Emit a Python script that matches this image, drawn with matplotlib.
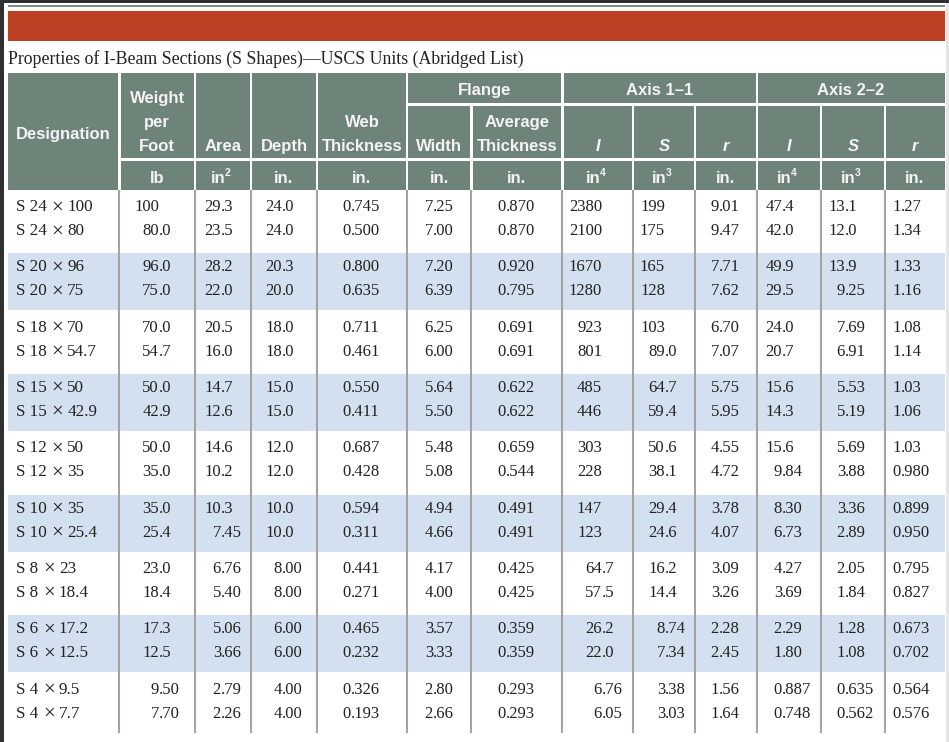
import matplotlib
matplotlib.use("Agg")
import matplotlib.pyplot as plt
from matplotlib import font_manager
from matplotlib.patches import Rectangle

# table data
designations = ["S 24 × 100", "S 24 × 80", "S 20 × 96", "S 20 × 75", "S 18 × 70", "S 18 × 54.7",
                "S 15 × 50", "S 15 × 42.9", "S 12 × 50", "S 12 × 35", "S 10 × 35", "S 10 × 25.4",
                "S 8 × 23", "S 8 × 18.4", "S 6 × 17.2", "S 6 × 12.5", "S 4 × 9.5", "S 4 × 7.7"]
weight = ["100", "80.0", "96.0", "75.0", "70.0", "54.7", "50.0", "42.9", "50.0", "35.0",
          "35.0", "25.4", "23.0", "18.4", "17.3", "12.5", "9.50", "7.70"]
area = ["29.3", "23.5", "28.2", "22.0", "20.5", "16.0", "14.7", "12.6", "14.6", "10.2",
        "10.3", "7.45", "6.76", "5.40", "5.06", "3.66", "2.79", "2.26"]
depth = ["24.0", "24.0", "20.3", "20.0", "18.0", "18.0", "15.0", "15.0", "12.0", "12.0",
         "10.0", "10.0", "8.00", "8.00", "6.00", "6.00", "4.00", "4.00"]
web_t = ["0.745", "0.500", "0.800", "0.635", "0.711", "0.461", "0.550", "0.411", "0.687", "0.428",
         "0.594", "0.311", "0.441", "0.271", "0.465", "0.232", "0.326", "0.193"]
flange_w = ["7.25", "7.00", "7.20", "6.39", "6.25", "6.00", "5.64", "5.50", "5.48", "5.08",
            "4.94", "4.66", "4.17", "4.00", "3.57", "3.33", "2.80", "2.66"]
flange_t = ["0.870", "0.870", "0.920", "0.795", "0.691", "0.691", "0.622", "0.622", "0.659", "0.544",
            "0.491", "0.491", "0.425", "0.425", "0.359", "0.359", "0.293", "0.293"]
i11 = ["2380", "2100", "1670", "1280", "923", "801", "485", "446", "303", "228",
       "147", "123", "64.7", "57.5", "26.2", "22.0", "6.76", "6.05"]
s11 = ["199", "175", "165", "128", "103", "89.0", "64.7", "59.4", "50.6", "38.1",
       "29.4", "24.6", "16.2", "14.4", "8.74", "7.34", "3.38", "3.03"]
r11 = ["9.01", "9.47", "7.71", "7.62", "6.70", "7.07", "5.75", "5.95", "4.55", "4.72",
       "3.78", "4.07", "3.09", "3.26", "2.28", "2.45", "1.56", "1.64"]
i22 = ["47.4", "42.0", "49.9", "29.5", "24.0", "20.7", "15.6", "14.3", "15.6", "9.84",
       "8.30", "6.73", "4.27", "3.69", "2.29", "1.80", "0.887", "0.748"]
s22 = ["13.1", "12.0", "13.9", "9.25", "7.69", "6.91", "5.53", "5.19", "5.69", "3.88",
       "3.36", "2.89", "2.05", "1.84", "1.28", "1.08", "0.635", "0.562"]
r22 = ["1.27", "1.34", "1.33", "1.16", "1.08", "1.14", "1.03", "1.06", "1.03", "0.980",
       "0.899", "0.950", "0.795", "0.827", "0.673", "0.702", "0.564", "0.576"]

title = "Properties of I-Beam Sections (S Shapes)\u2014USCS Units (Abridged List)"
# units: (base, superscript)
units = [("lb", ""), ("in", "2"), ("in.", ""), ("in.", ""), ("in.", ""), ("in.", ""),
         ("in", "4"), ("in", "3"), ("in.", ""), ("in", "4"), ("in", "3"), ("in.", "")]

HEAD = "#6f8478"
RED = "#bc4124"
BLUE = "#d3e0ef"
GRID = "#a3a3a3"
INK = "#222222"

names = {f.name for f in font_manager.fontManager.ttflist}
if "Liberation Sans Narrow" in names:
    hfam = ["Liberation Sans Narrow", "DejaVu Sans"]
    hsize = 14
else:
    hfam = ["Liberation Sans", "DejaVu Sans"]
    hsize = 12
serif = ["Liberation Serif", "DejaVu Serif"]

fig = plt.figure(figsize=(9.49, 7.42), dpi=100)
ax = fig.add_axes([0, 0, 1, 1])
ax.set_xlim(0, 949)
ax.set_ylim(742, 0)
ax.axis("off")

# screenshot frame
ax.add_patch(Rectangle((0, 0), 949, 2.5, color="#2e3032", lw=0))
ax.add_patch(Rectangle((0, 0), 4.5, 742, color="#2e3032", lw=0))
ax.add_patch(Rectangle((946, 2.5), 3, 740, color="#e6e6e6", lw=0))
ax.add_patch(Rectangle((8, 5), 937, 2, color="#7d8d85", lw=0))
ax.add_patch(Rectangle((8, 11), 937, 30, color=RED, lw=0))

ax.text(8, 64, title, fontsize=12.8, family=serif, color=INK, va="baseline", ha="left")

# column edges
edges = [8, 119.5, 195, 251, 317, 407, 471.5, 562.5, 633, 695, 757, 821, 885, 945]
gap = 2.5
top, mid, sub, bot = 73, 104.5, 159.5, 190


def cell(x0, x1, y0, y1):
    ax.add_patch(Rectangle((x0, y0), x1 - x0, y1 - y0, color=HEAD, lw=0))


def left(i):
    return edges[i] + (gap / 2 if i > 0 else 0)


def right(i):
    return edges[i] - (gap / 2 if i < len(edges) - 1 else 0)


# header cells
cell(left(0), right(1), top, bot)
for i in range(1, 5):
    cell(left(i), right(i + 1), top, sub - gap / 2)
for i in range(1, 13):
    cell(left(i), right(i + 1), sub + gap / 2, bot)
for a, b in [(5, 7), (7, 10), (10, 13)]:
    cell(left(a), right(b), top, mid - gap / 2)
for i in range(5, 13):
    cell(left(i), right(i + 1), mid + gap / 2, sub - gap / 2)


def htext(x, y, s, size=None, ha="center", **kw):
    ax.text(x, y, s, family=hfam, fontsize=size or hsize, fontweight="bold", color="#f4f4f4",
            ha=ha, va="baseline", **kw)


def ctr(i, j=None):
    j = i + 1 if j is None else j
    return (edges[i] + edges[j]) / 2


htext(ctr(0), 139, "Designation")
htext(ctr(1), 103, "Weight")
htext(ctr(1), 127, "per")
htext(ctr(1), 151, "Foot")
htext(ctr(2), 151, "Area")
htext(ctr(3), 151, "Depth")
htext(ctr(4), 127, "Web")
htext(ctr(4), 151, "Thickness")
htext(ctr(5), 151, "Width")
htext(ctr(6), 127, "Average")
htext(ctr(6), 151, "Thickness")
htext(ctr(5, 7), 95, "Flange")
htext(ctr(7, 10), 95, "Axis 1\u20131")
htext(ctr(10, 13), 95, "Axis 2\u20132")
for k, s in enumerate(["I", "S", "r", "I", "S", "r"]):
    htext(ctr(7 + k), 151, s, fontstyle="italic")
for k, (base, sup) in enumerate(units):
    c = ctr(1 + k)
    if sup:
        htext(c + 3, 183, base, ha="right")
        htext(c + 1.8, 176.5, sup, size=hsize * 0.62, ha="left")
    else:
        htext(c, 183, base)

# body
columns = [weight, area, depth, web_t, flange_w, flange_t, i11, s11, r11, i22, s22, r22]
dec_x = [159, 221, 282, 351, 433, 506, 602, 665, 719, 782, 845, 901]
pitch = 60.3
ngroups = len(designations) // 2

for g in range(ngroups):
    gy = 192 + g * pitch
    if g % 2 == 1:
        ax.add_patch(Rectangle((8, gy + 1), 937, 57, color=BLUE, lw=0))

for x in edges[1:-1]:
    ax.plot([x, x], [bot, 733], color=GRID, lw=1.5, solid_capstyle="butt")

em = 12.3 * 100 / 72  # body em in px
for r, name in enumerate(designations):
    g = r // 2
    y = 192 + g * pitch + (13.5 if r % 2 == 0 else 37.5) + 5.6
    a, b = name.split(" × ")
    ax.text(16, y, a, family=serif, fontsize=12.3, color=INK, va="baseline", ha="left")
    # Times digits are fixed width, so the prefix width follows from its length
    xa = 16 + (0.556 + 0.25 + 0.5 * (len(a) - 2)) * em
    ax.text(xa + 10.5, y + 1.2, "×", family=serif, fontsize=15, color=INK,
            va="baseline", ha="center")
    ax.text(xa + 20.5, y, b, family=serif, fontsize=12.3, color=INK, va="baseline", ha="left")
    for col, dx in zip(columns, dec_x):
        v = col[r]
        if "." in v:
            ip, fp = v.split(".")
            ax.text(dx, y, ip, family=serif, fontsize=12, color=INK, va="baseline", ha="right")
            ax.text(dx, y, "." + fp, family=serif, fontsize=12, color=INK, va="baseline", ha="left")
        else:
            ax.text(dx, y, v, family=serif, fontsize=12, color=INK, va="baseline", ha="right")

fig.savefig("out.png", dpi=100)
